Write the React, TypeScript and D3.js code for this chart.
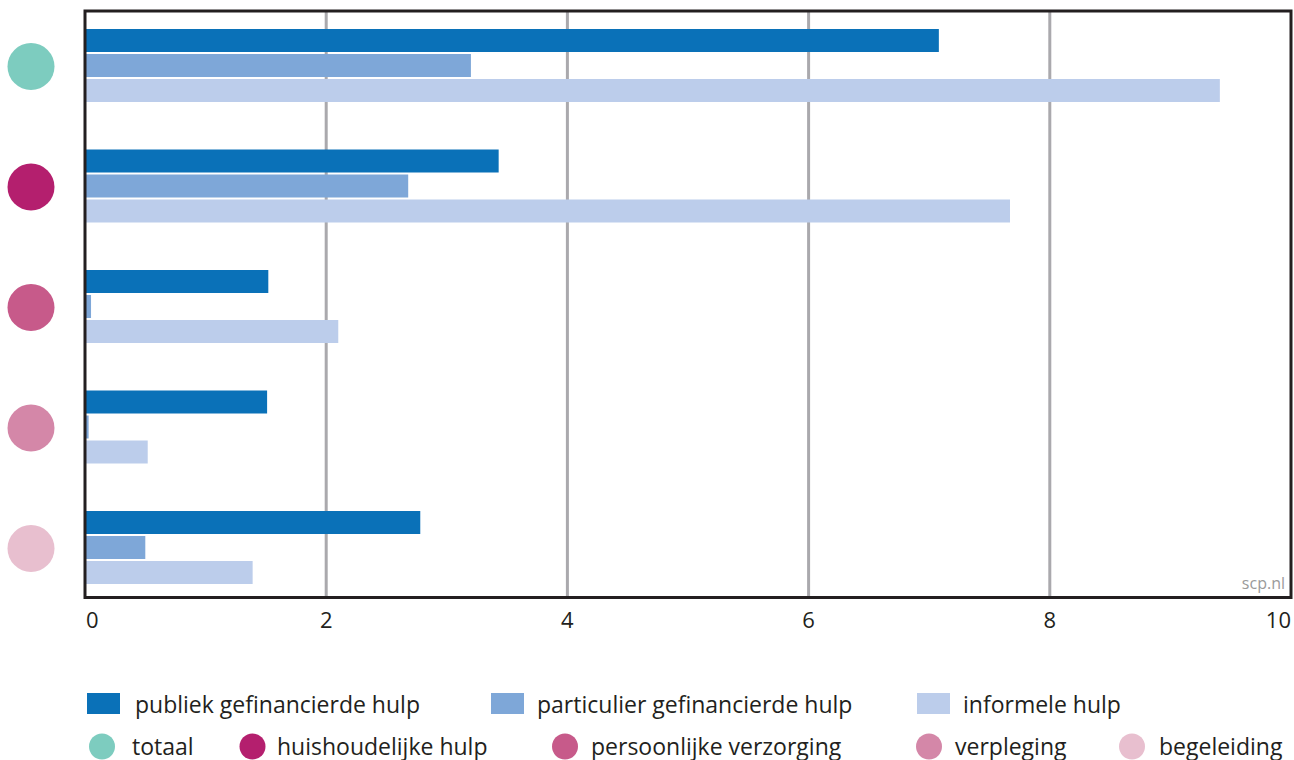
import React from "react";
import * as d3 from "d3";

const categories = ["totaal", "huishoudelijke hulp", "persoonlijke verzorging", "verpleging", "begeleiding"];
const categoryColors = ["#7dccbf", "#b41f6e", "#c75a8a", "#d487a8", "#e8bfcf"];
const seriesNames = ["publiek gefinancierde hulp", "particulier gefinancierde hulp", "informele hulp"];
const seriesColors = ["#0a71b8", "#7ea7d8", "#bccdeb"];
const publiek = [7.08, 3.43, 1.52, 1.51, 2.78];
const particulier = [3.2, 2.68, 0.05, 0.03, 0.5];
const informeel = [9.41, 7.67, 2.1, 0.52, 1.39];
const xTicks = [0, 2, 4, 6, 8, 10];

const W = 1294;
const H = 760;
const FONT = "'Open Sans', sans-serif";

export default function App() {
  const x = d3.scaleLinear().domain([0, 10]).range([85, 1291]);
  const y = d3.scalePoint<string>().domain(categories).range([65.5, 547.5]);
  const inner = d3.scaleBand<string>().domain(seriesNames).range([-36.5, 36.5]).paddingInner(0.08);
  const values = [publiek, particulier, informeel];
  const top = 11;
  const bottom = 597.5;

  const legendRow1X = [87, 491, 917];
  const legendRow1TextX = [135, 537, 963];
  const legendRow2X = [102, 252.5, 565, 929, 1132];
  const legendRow2TextX = [132, 277, 591, 955, 1159];

  return (
    <svg width={W} height={H} style={{ position: "absolute", left: 0, top: 0, display: "block" }} fontFamily={FONT}>
      <rect x={0} y={0} width={W} height={H} fill="#ffffff" />
      {xTicks.filter((t) => t > 0 && t < 10).map((t) => (
        <line key={"g" + t} x1={x(t)} x2={x(t)} y1={top} y2={bottom} stroke="#aaa9ad" strokeWidth={3} />
      ))}
      {categories.map((c, ci) => (
        <g key={c}>
          {seriesNames.map((s, si) => (
            <rect
              key={s}
              x={x(0)}
              y={(y(c) as number) + (inner(s) as number)}
              width={x(values[si][ci]) - x(0)}
              height={inner.bandwidth()}
              fill={seriesColors[si]}
            />
          ))}
          <circle cx={31} cy={(y(c) as number) + 1} r={23.5} fill={categoryColors[ci]} />
        </g>
      ))}
      <rect x={x(0)} y={top} width={x(10) - x(0)} height={bottom - top} fill="none" stroke="#231f20" strokeWidth={3} />
      <text x={1285} y={589} fontSize={16} fill="#9a9a9a" textAnchor="end">scp.nl</text>
      {xTicks.map((t) => (
        <text
          key={"t" + t}
          x={t === 0 ? x(t) + 1 : x(t)}
          y={628}
          fontSize={22}
          fill="#231f20"
          textAnchor={t === 0 ? "start" : t === 10 ? "end" : "middle"}
        >
          {t}
        </text>
      ))}
      {seriesNames.map((s, i) => (
        <g key={"l" + s}>
          <rect x={legendRow1X[i]} y={693} width={33} height={21} fill={seriesColors[i]} />
          <text x={legendRow1TextX[i]} y={713} fontSize={23} fill="#231f20">{s}</text>
        </g>
      ))}
      {categories.map((c, i) => (
        <g key={"lc" + c}>
          <circle cx={legendRow2X[i]} cy={746.5} r={13} fill={categoryColors[i]} />
          <text x={legendRow2TextX[i]} y={755} fontSize={23} fill="#231f20">{c}</text>
        </g>
      ))}
    </svg>
  );
}
